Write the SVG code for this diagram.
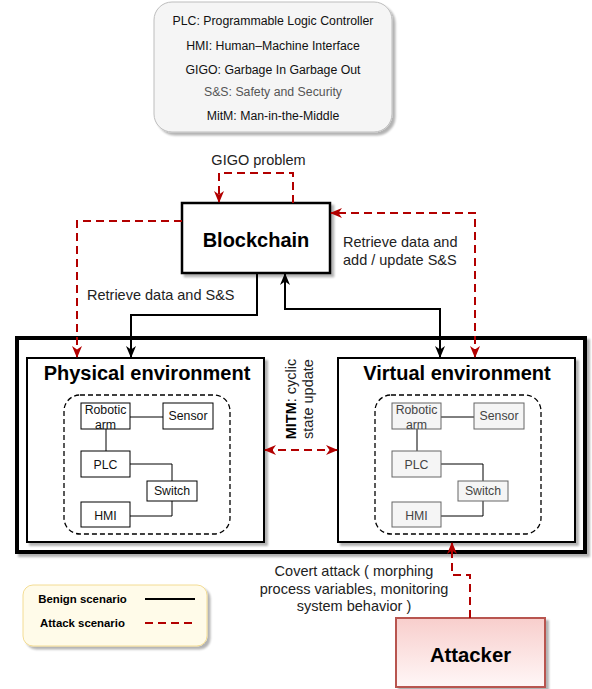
<svg xmlns="http://www.w3.org/2000/svg" width="592" height="689" viewBox="0 0 592 689">
  <defs>
    <filter id="shadow" x="-10%" y="-10%" width="130%" height="130%">
      <feGaussianBlur in="SourceAlpha" stdDeviation="1.2"/>
      <feOffset dx="2.5" dy="2.5" result="b"/>
      <feComponentTransfer><feFuncA type="linear" slope="0.3"/></feComponentTransfer>
      <feMerge><feMergeNode/><feMergeNode in="SourceGraphic"/></feMerge>
    </filter>
    <linearGradient id="attackerFill" x1="0" y1="0" x2="0" y2="1">
      <stop offset="0" stop-color="#f8cecc"/>
      <stop offset="1" stop-color="#fff7f7"/>
    </linearGradient>
    <marker id="arrowBlack" markerUnits="userSpaceOnUse" markerWidth="12" markerHeight="12" viewBox="0 0 12 12" refX="11" refY="6" orient="auto-start-reverse">
      <path d="M0,1 L12,6 L0,11 L3.5,6 Z" fill="#000"/>
    </marker>
    <marker id="arrowRed" markerUnits="userSpaceOnUse" markerWidth="12" markerHeight="12" viewBox="0 0 12 12" refX="11" refY="6" orient="auto-start-reverse">
      <path d="M0,1 L12,6 L0,11 L3.5,6 Z" fill="#b20000"/>
    </marker>
  </defs>
  <style>
    text { font-family: "Liberation Sans", Arial, Helvetica, sans-serif; fill: #000; }
    .abbr { font-size: 12.3px; text-anchor: middle; fill: #111; }
    .lbl { font-size: 14.5px; fill: #222; }
    .big { font-size: 20px; font-weight: bold; text-anchor: middle; }
    .key { font-size: 11.4px; font-weight: bold; text-anchor: middle; }
    .node { fill: #fff; stroke: #000; stroke-width: 1; }
    .vnode { fill: #f5f5f5; stroke: #666; stroke-width: 1; }
    .ntxt { font-size: 12.3px; text-anchor: middle; fill: #111; }
    .vtxt { font-size: 12.3px; text-anchor: middle; fill: #444; }
    .wire { fill: none; stroke: #000; stroke-width: 1; }
    .benign { fill: none; stroke: #000; stroke-width: 2; }
    .attack { fill: none; stroke: #b20000; stroke-width: 2; stroke-dasharray: 8 5; }
    .zone { fill: none; stroke: #000; stroke-width: 1.3; stroke-dasharray: 5 3; }
  </style>

  <!-- abbreviations -->
  <g id="abbreviations">
    <rect x="154" y="2" width="238" height="130" rx="18" fill="#f5f5f5" stroke="#bdbdbd" stroke-width="1" filter="url(#shadow)"/>
    <text class="abbr" x="273" y="25">PLC: Programmable Logic Controller</text>
    <text class="abbr" x="273" y="50">HMI: Human–Machine Interface</text>
    <text class="abbr" x="273" y="74">GIGO: Garbage In Garbage Out</text>
    <text class="abbr" x="273" y="96" style="fill:#555">S&amp;S: Safety and Security</text>
    <text class="abbr" x="273" y="120">MitM: Man-in-the-Middle</text>
  </g>

  <!-- outer system frame -->
  <g id="system">
    <rect x="17" y="338" width="568" height="214" fill="#fff" stroke="#000" stroke-width="4" filter="url(#shadow)"/>
  </g>

  <!-- blockchain -->
  <g id="blockchain">
    <rect x="182" y="203" width="148" height="70" fill="#fff" stroke="#000" stroke-width="2.5" filter="url(#shadow)"/>
    <text class="big" x="256" y="247">Blockchain</text>
  </g>

  <!-- physical environment -->
  <g id="physical">
    <rect x="27" y="358" width="237" height="184" fill="#fff" stroke="#000" stroke-width="2" filter="url(#shadow)"/>
    <text class="big" x="147" y="380">Physical environment</text>
    <rect class="zone" x="64" y="395" width="166" height="139" rx="16"/>
    <path class="wire" d="M130,417 H163 M106,429 V451 M130,464 H172 V481 M172,501 V516 H130"/>
    <g id="p-arm"><rect class="node" x="81" y="403" width="49" height="26"/><text class="ntxt" x="105.5" y="414">Robotic</text><text class="ntxt" x="105.5" y="429">arm</text></g>
    <g id="p-sensor"><rect class="node" x="163" y="403" width="50" height="26"/><text class="ntxt" x="188" y="420">Sensor</text></g>
    <g id="p-plc"><rect class="node" x="81" y="451" width="49" height="26"/><text class="ntxt" x="105.5" y="469">PLC</text></g>
    <g id="p-switch"><rect class="node" x="147" y="481" width="50" height="20"/><text class="ntxt" x="172" y="495">Switch</text></g>
    <g id="p-hmi"><rect class="node" x="81" y="502" width="49" height="25"/><text class="ntxt" x="105.5" y="520">HMI</text></g>
  </g>

  <!-- virtual environment -->
  <g id="virtual">
    <rect x="338" y="358" width="237" height="184" fill="#fff" stroke="#000" stroke-width="2" filter="url(#shadow)"/>
    <text class="big" x="457" y="380">Virtual environment</text>
    <rect class="zone" x="375" y="395" width="166" height="139" rx="16"/>
    <path class="wire" d="M441,417 H474 M417,429 V451 M441,464 H483 V481 M483,501 V516 H441"/>
    <g id="v-arm"><rect class="vnode" x="392" y="403" width="49" height="26"/><text class="vtxt" x="416.5" y="414">Robotic</text><text class="vtxt" x="416.5" y="429">arm</text></g>
    <g id="v-sensor"><rect class="vnode" x="474" y="403" width="50" height="26"/><text class="vtxt" x="499" y="420">Sensor</text></g>
    <g id="v-plc"><rect class="vnode" x="392" y="451" width="49" height="26"/><text class="vtxt" x="416.5" y="469">PLC</text></g>
    <g id="v-switch"><rect class="vnode" x="458" y="481" width="50" height="20"/><text class="vtxt" x="483" y="495">Switch</text></g>
    <g id="v-hmi"><rect class="vnode" x="392" y="502" width="49" height="25"/><text class="vtxt" x="416.5" y="520">HMI</text></g>
  </g>

  <!-- attacker -->
  <g id="attacker">
    <rect x="396" y="618" width="149" height="69" fill="url(#attackerFill)" stroke="#b85450" stroke-width="2" filter="url(#shadow)"/>
    <text class="big" x="470.5" y="662" style="font-size:20.3px">Attacker</text>
  </g>

  <!-- scenario key -->
  <g id="key">
    <rect x="23" y="585" width="184" height="61" rx="10" fill="#fffbe9" stroke="#f3dc94" stroke-width="1" filter="url(#shadow)"/>
    <text class="key" x="82.5" y="603">Benign scenario</text>
    <text class="key" x="82.5" y="627">Attack scenario</text>
    <line x1="145" y1="599" x2="195" y2="599" stroke="#000" stroke-width="2"/>
    <line x1="145" y1="623" x2="195" y2="623" stroke="#b20000" stroke-width="2" stroke-dasharray="8 5"/>
  </g>

  <!-- connectors -->
  <g id="connectors">
    <!-- GIGO loop on the blockchain -->
    <path class="attack" d="M293,203 V173 H219 V202" marker-end="url(#arrowRed)"/>
    <text class="lbl" x="258.5" y="165" text-anchor="middle">GIGO problem</text>
    <!-- blockchain to physical (attack) -->
    <path class="attack" d="M182,221 H77 V357" marker-end="url(#arrowRed)"/>
    <!-- blockchain to physical (benign) -->
    <path class="benign" d="M257,273 V315 H131 V357" marker-end="url(#arrowBlack)"/>
    <text class="lbl" x="87" y="300">Retrieve data and S&amp;S</text>
    <!-- virtual <-> blockchain (benign) -->
    <path class="benign" d="M440,357 V309 H285 V274" marker-start="url(#arrowBlack)" marker-end="url(#arrowBlack)"/>
    <!-- virtual <-> blockchain (attack) -->
    <path class="attack" d="M475,357 V213 H331" marker-start="url(#arrowRed)" marker-end="url(#arrowRed)"/>
    <text class="lbl" x="343" y="247">Retrieve data and</text>
    <text class="lbl" x="343" y="265">add / update S&amp;S</text>
    <!-- MITM cyclic state update -->
    <path class="attack" d="M265,450 H337" marker-start="url(#arrowRed)" marker-end="url(#arrowRed)"/>
    <text class="lbl" transform="translate(300,399) rotate(-90)" text-anchor="middle"><tspan x="0" y="-4"><tspan font-weight="bold" fill="#000">MITM</tspan>: cyclic</tspan><tspan x="0" y="13">state update</tspan></text>
    <!-- covert attack -->
    <path class="attack" d="M470,618 V575 H452 V543" marker-end="url(#arrowRed)"/>
    <text class="lbl" text-anchor="middle"><tspan x="354" y="576">Covert attack ( morphing</tspan><tspan x="354" y="593.5">process variables, monitoring</tspan><tspan x="354" y="611">system behavior )</tspan></text>
  </g>
</svg>
